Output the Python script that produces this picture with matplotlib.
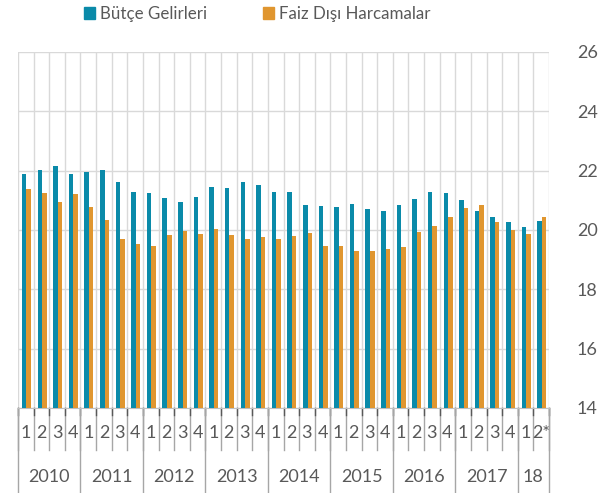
import matplotlib
matplotlib.use('Agg')
import matplotlib.pyplot as plt
from matplotlib.patches import Patch
import numpy as np

# veriler (ceyreklik, GSYH'ye oran %)
ceyrek = ['1', '2', '3', '4'] * 8 + ['1', '2*']
yillar = ['2010', '2011', '2012', '2013', '2014', '2015', '2016', '2017', '18']
yil_ceyrek_sayisi = [4, 4, 4, 4, 4, 4, 4, 4, 2]
butce_gelirleri = [21.90, 22.03, 22.17, 21.90, 21.97, 22.01, 21.62, 21.28,
                   21.25, 21.09, 20.93, 21.11, 21.46, 21.42, 21.62, 21.51,
                   21.29, 21.28, 20.85, 20.81, 20.78, 20.89, 20.72, 20.65,
                   20.85, 21.05, 21.27, 21.24, 21.02, 20.64, 20.45, 20.28,
                   20.10, 20.31]
faiz_disi = [21.38, 21.25, 20.93, 21.20, 20.78, 20.33, 19.71, 19.52,
             19.47, 19.83, 19.97, 19.87, 20.04, 19.84, 19.69, 19.77,
             19.71, 19.81, 19.91, 19.47, 19.46, 19.28, 19.30, 19.36,
             19.44, 19.94, 20.12, 20.45, 20.75, 20.83, 20.27, 19.99,
             19.88, 20.45]

MAVI = '#0a8aa9'
TURUNCU = '#e0962f'
GRI_YAZI = '#595959'
GRID = '#d9d9d9'
plt.rcParams['font.family'] = ['Lato', 'DejaVu Sans']

W, H = 610, 493
fig = plt.figure(figsize=(W / 100, H / 100), dpi=100)
x0, x1, ytop, ybot = 18, 549, 52, 408
ax = fig.add_axes([x0 / W, (H - ybot) / H, (x1 - x0) / W, (ybot - ytop) / H])

n = len(butce_gelirleri)
x = np.arange(n) + 0.5
bw = 0.29
ax.bar(x - bw / 2 + 0.04, np.array(butce_gelirleri) - 14, bw, bottom=14, color=MAVI, zorder=3)
ax.bar(x + bw / 2 + 0.04, np.array(faiz_disi) - 14, bw, bottom=14, color=TURUNCU, zorder=3)

ax.set_xlim(0, n)
ax.set_ylim(14, 26)
ax.set_yticks(range(14, 27, 2))
ax.yaxis.tick_right()
ax.tick_params(axis='y', length=0, pad=20, labelsize=13, labelcolor=GRI_YAZI)
ax.set_xticks(range(n + 1))
ax.tick_params(axis='x', length=0, labelbottom=False)
ax.grid(True, color=GRID, lw=1, zorder=0)
for s in ['top', 'left', 'right']:
    ax.spines[s].set_visible(False)
ax.spines['bottom'].set_color('#bfbfbf')

# kategori ekseni: ceyrek ve yil etiketleri
tr = ax.get_xaxis_transform()
h = ybot - ytop
q_alt = -42 / h
y_alt = -86 / h
for i in range(n + 1):
    ax.plot([i, i], [0, q_alt], transform=tr, color='#a6a6a6', lw=1, clip_on=False)
    ax.plot([i, i], [0, -7 / h], transform=tr, color='#595959', lw=1, clip_on=False)
for i, c in enumerate(ceyrek):
    ax.text(i + 0.5, -25 / h, c, transform=tr, ha='center', va='center',
            fontsize=13, color=GRI_YAZI)
bas = 0
for y, k in zip(yillar, yil_ceyrek_sayisi):
    ax.plot([bas, bas], [0, y_alt], transform=tr, color='#a6a6a6', lw=1, clip_on=False)
    ax.text(bas + k / 2, -69 / h, y, transform=tr, ha='center', va='center',
            fontsize=13, color=GRI_YAZI)
    bas += k
ax.plot([bas, bas], [0, y_alt], transform=tr, color='#a6a6a6', lw=1, clip_on=False)

handles = [Patch(color=MAVI, label='Bütçe Gelirleri'),
           Patch(color=TURUNCU, label='Faiz Dışı Harcamalar')]
fig.legend(handles=handles, loc='upper left', bbox_to_anchor=(72 / W, 1.012),
           ncol=2, frameon=False, fontsize=12.2, labelcolor=GRI_YAZI,
           handlelength=0.65, handleheight=0.65, handletextpad=0.3,
           columnspacing=3.3, borderaxespad=0.3)

fig.savefig('out.png', dpi=100)
